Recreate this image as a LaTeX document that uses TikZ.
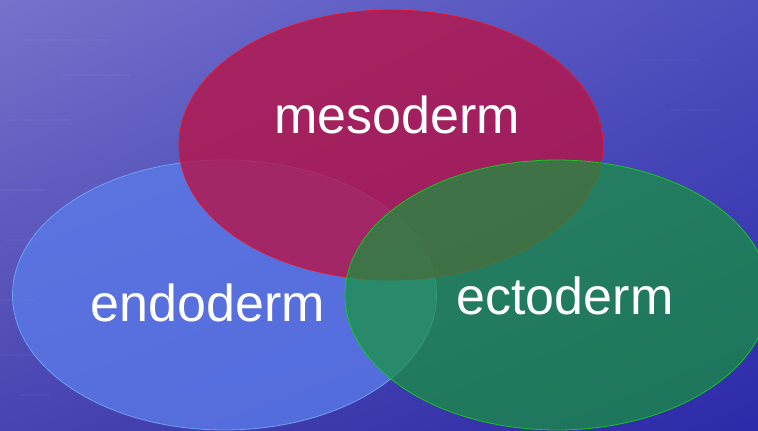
\documentclass[tikz,border=0pt]{standalone}
\usepackage{fontspec}
\setmainfont{Liberation Sans}
\usetikzlibrary{shapes.geometric,shadings}
\definecolor{bgTL}{RGB}{118,114,204}
\definecolor{bgTR}{RGB}{78,78,190}
\definecolor{bgBL}{RGB}{72,68,176}
\definecolor{bgBR}{RGB}{44,42,168}
\definecolor{mesoFill}{RGB}{182,20,72}
\definecolor{mesoLine}{RGB}{235,20,40}
\definecolor{endoFill}{RGB}{90,122,232}
\definecolor{endoLine}{RGB}{110,160,245}
\definecolor{ectoFill}{RGB}{22,150,60}
\definecolor{ectoLine}{RGB}{20,200,30}
\tikzset{
  layer/.style={ellipse, minimum width=424pt, minimum height=270pt, inner sep=0pt, line width=0.8pt},
  layertext/.style={text=white, font=\fontsize{52}{60}\selectfont, anchor=base, inner sep=0pt},
  streak/.style={white, line width=2pt, line cap=round}
}
\begin{document}
\begin{tikzpicture}[x=1pt,y=-1pt]
\useasboundingbox (0,0) rectangle (758,431);
\shade[upper left=bgTL, upper right=bgTR, lower left=bgBL, lower right=bgBR] (0,0) rectangle (758,431);
\foreach \yy/\xx/\ww/\op in {40/20/90/0.035, 75/60/70/0.03, 120/10/60/0.03, 190/0/45/0.04, 240/5/30/0.03, 300/0/35/0.04, 355/0/40/0.035, 395/20/30/0.035, 60/640/60/0.025, 110/670/50/0.025, 25/330/100/0.025}
  \draw[streak, opacity=\op] (\xx,\yy) -- ++(\ww,0);
\node[layer, draw=endoLine, fill=endoFill, fill opacity=0.8] (endo) at (224.5,295) {};
\node[layer, draw=mesoLine, fill=mesoFill, fill opacity=0.8] (meso) at (391,145) {};
\node[layer, draw=ectoLine, fill=ectoFill, fill opacity=0.7] (ecto) at (557,295) {};
\node[layertext] (mesoText) at (397,133) {mesoderm};
\node[layertext] (endoText) at (208,321) {endoderm};
\node[layertext] (ectoText) at (565,314) {ectoderm};
\end{tikzpicture}
\end{document}
